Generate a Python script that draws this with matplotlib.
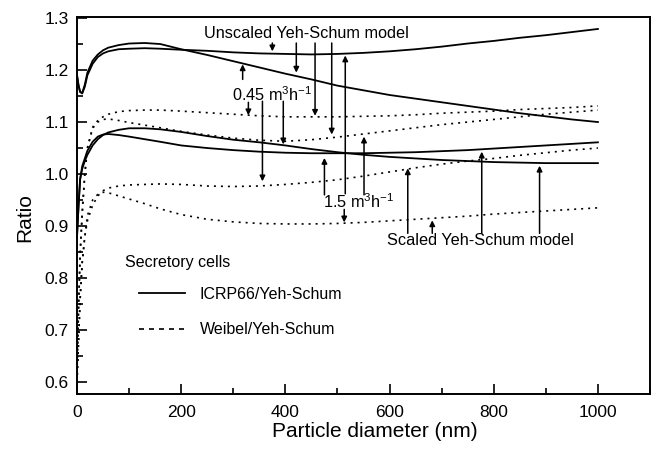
import matplotlib
matplotlib.use('Agg')
import matplotlib.pyplot as plt
from matplotlib.lines import Line2D
from matplotlib.ticker import MultipleLocator

# particle diameter (nm), shared by all curves
diameter = [0, 3, 6, 10, 15, 20, 30, 40, 50, 60, 80, 100, 130, 160, 200, 250,
            300, 350, 400, 450, 500, 550, 600, 650, 700, 750, 800, 850, 900,
            950, 1000]

# ICRP66/Yeh-Schum, unscaled model (two flow rates)
icrp_unscaled_rise = [1.19, 1.17, 1.158, 1.155, 1.168, 1.19, 1.212, 1.225,
                      1.232, 1.236, 1.240, 1.241, 1.242, 1.241, 1.239, 1.237,
                      1.234, 1.232, 1.231, 1.230, 1.231, 1.233, 1.236, 1.240,
                      1.245, 1.251, 1.256, 1.262, 1.267, 1.273, 1.279]
icrp_unscaled_fall = [1.19, 1.17, 1.158, 1.156, 1.172, 1.195, 1.218, 1.230,
                      1.238, 1.243, 1.248, 1.251, 1.252, 1.250, 1.240, 1.229,
                      1.217, 1.205, 1.193, 1.182, 1.170, 1.161, 1.152, 1.145,
                      1.138, 1.131, 1.124, 1.117, 1.111, 1.105, 1.100]

# ICRP66/Yeh-Schum, scaled model
icrp_scaled_fall = [0.88, 0.94, 0.99, 1.01, 1.025, 1.037, 1.055, 1.067, 1.075,
                    1.080, 1.085, 1.088, 1.088, 1.086, 1.081, 1.073, 1.066,
                    1.061, 1.055, 1.048, 1.042, 1.037, 1.033, 1.030, 1.027,
                    1.025, 1.023, 1.022, 1.021, 1.021, 1.021]
icrp_scaled_rise = [0.88, 0.94, 0.99, 1.015, 1.03, 1.045, 1.062, 1.072, 1.076,
                    1.077, 1.075, 1.072, 1.067, 1.062, 1.055, 1.050, 1.046,
                    1.043, 1.041, 1.040, 1.040, 1.040, 1.041, 1.042, 1.044,
                    1.046, 1.049, 1.052, 1.055, 1.058, 1.061]

# Weibel/Yeh-Schum, unscaled model
weibel_unscaled_upper = [0.62, 0.75, 0.85, 0.93, 1.0, 1.05, 1.09, 1.103, 1.11,
                         1.115, 1.12, 1.122, 1.123, 1.123, 1.121, 1.118, 1.115,
                         1.112, 1.110, 1.110, 1.110, 1.111, 1.112, 1.114,
                         1.117, 1.119, 1.121, 1.124, 1.126, 1.128, 1.131]
weibel_unscaled_lower = [0.62, 0.74, 0.84, 0.92, 1.0, 1.05, 1.088, 1.100,
                         1.105, 1.106, 1.103, 1.099, 1.094, 1.089, 1.082,
                         1.075, 1.069, 1.065, 1.063, 1.066, 1.071, 1.077,
                         1.083, 1.089, 1.095, 1.100, 1.105, 1.110, 1.115,
                         1.119, 1.123]

# Weibel/Yeh-Schum, scaled model
weibel_scaled_upper = [0.60, 0.68, 0.76, 0.83, 0.88, 0.91, 0.94, 0.958, 0.968,
                       0.973, 0.977, 0.979, 0.980, 0.981, 0.980, 0.977, 0.976,
                       0.977, 0.980, 0.984, 0.989, 0.996, 1.004, 1.012, 1.019,
                       1.025, 1.030, 1.036, 1.041, 1.046, 1.050]
weibel_scaled_lower = [0.60, 0.68, 0.76, 0.83, 0.88, 0.92, 0.95, 0.961, 0.965,
                       0.964, 0.958, 0.952, 0.943, 0.933, 0.922, 0.913, 0.908,
                       0.905, 0.904, 0.904, 0.905, 0.907, 0.910, 0.913, 0.916,
                       0.919, 0.923, 0.926, 0.929, 0.932, 0.935]

# annotation labels: (text, x, y)
labels = [
    ('Unscaled Yeh-Schum model', 441, 1.271),
    ('0.45 m$^3$h$^{-1}$', 375, 1.152),
    ('1.5 m$^3$h$^{-1}$', 540, 0.946),
    ('Scaled Yeh-Schum model', 775, 0.873),
]
# arrows: (x, y of tail, y of head)
arrows = [
    (375, 1.252, 1.236), (421, 1.252, 1.195), (457, 1.252, 1.112),
    (489, 1.252, 1.076), (515, 0.962, 1.228),
    (318, 1.182, 1.211), (329, 1.138, 1.113), (356, 1.140, 0.986),
    (396, 1.140, 1.057),
    (475, 0.960, 1.031), (551, 0.960, 1.072), (513, 0.932, 0.907),
    (635, 0.886, 1.011), (682, 0.886, 0.911), (777, 0.886, 1.043),
    (888, 0.886, 1.016),
]

plt.rcParams['font.family'] = ['Liberation Sans', 'DejaVu Sans']
plt.rcParams['mathtext.default'] = 'regular'

fig = plt.figure(figsize=(6.53, 4.54), dpi=100)
ax = fig.add_axes([77 / 653, 1 - 394 / 454, 573 / 653, 377 / 454])

dots = (0, (1.2, 3.0))
solid_kw = dict(color='black', lw=1.3)
dot_kw = dict(color='black', lw=1.2, linestyle=dots)

ax.plot(diameter, icrp_unscaled_rise, **solid_kw)
ax.plot(diameter, icrp_unscaled_fall, **solid_kw)
ax.plot(diameter, icrp_scaled_fall, **solid_kw)
ax.plot(diameter, icrp_scaled_rise, **solid_kw)
ax.plot(diameter, weibel_unscaled_upper, **dot_kw)
ax.plot(diameter, weibel_unscaled_lower, **dot_kw)
ax.plot(diameter, weibel_scaled_upper, **dot_kw)
ax.plot(diameter, weibel_scaled_lower, **dot_kw)

for text, x, y in labels:
    ax.text(x, y, text, ha='center', va='center', fontsize=11.7)

for x, y0, y1 in arrows:
    ax.annotate('', xy=(x, y1), xytext=(x, y0),
                arrowprops=dict(arrowstyle='-|>', color='black', lw=1.1,
                                mutation_scale=8, shrinkA=0, shrinkB=0))

# legend
ax.text(92, 0.829, 'Secretory cells', ha='left', va='center', fontsize=11.5)
handles = [Line2D([], [], color='black', lw=1.3),
           Line2D([], [], color='black', lw=1.2, linestyle=(0, (3, 3)))]
ax.legend(handles, ['ICRP66/Yeh-Schum', 'Weibel/Yeh-Schum'],
          loc='upper left', bbox_to_anchor=(0.108, 0.285), frameon=False,
          fontsize=11.5, borderpad=0, borderaxespad=0, handlelength=2.9,
          handletextpad=0.9, labelspacing=1.3)

ax.set_xlim(0, 1100)
ax.set_ylim(0.577, 1.302)
ax.xaxis.set_major_locator(MultipleLocator(200))
ax.xaxis.set_minor_locator(MultipleLocator(100))
ax.yaxis.set_major_locator(MultipleLocator(0.1))
ax.yaxis.set_minor_locator(MultipleLocator(0.05))
ax.set_xticks([0, 200, 400, 600, 800, 1000])
ax.tick_params(which='both', direction='in', width=1.2, labelsize=12.5)
ax.tick_params(which='major', length=7)
ax.tick_params(which='minor', length=4)
ax.tick_params(axis='x', pad=8)
ax.tick_params(axis='y', pad=6)
for sp in ax.spines.values():
    sp.set_linewidth(1.4)

ax.set_xlabel('Particle diameter (nm)', fontsize=15)
ax.set_ylabel('Ratio', fontsize=15)
ax.xaxis.set_label_coords((375 - 77) / 573, -0.075)
ax.yaxis.set_label_coords(-0.075, 0.469)

fig.savefig('out.png', dpi=100)
